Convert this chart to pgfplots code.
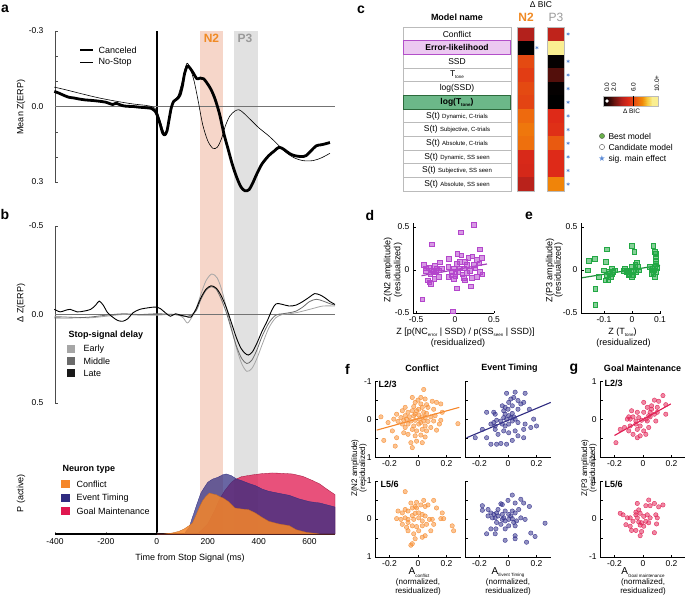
\documentclass[border=0pt]{standalone}
\usepackage{fontspec}
\setmainfont{Liberation Sans}
\newfontfamily\djv{DejaVu Sans}
\usepackage{pgfplots}
\pgfplotsset{compat=1.18}
\definecolor{nbandc}{HTML}{F6D6C9}
\definecolor{pbandc}{HTML}{E1E1E1}
\definecolor{ntwo}{HTML}{F08A24}
\definecolor{pthree}{HTML}{9A9A9A}
\definecolor{cconf}{HTML}{F5862A}
\definecolor{cet}{HTML}{2F2B80}
\definecolor{cgm}{HTML}{E0174F}
\definecolor{dpur}{HTML}{B446CC}
\definecolor{egrn}{HTML}{22A844}
\definecolor{starblue}{HTML}{5A8AD6}
\definecolor{elfill}{HTML}{ECC9F1}
\definecolor{elbord}{HTML}{B24FC9}
\definecolor{gfill}{HTML}{6CB889}
\definecolor{gbord}{HTML}{2C6A3C}
\definecolor{rowb}{HTML}{BBBBBB}
\definecolor{fo}{HTML}{F7923A}
\definecolor{fn}{HTML}{3B3990}
\definecolor{fg}{HTML}{E2285A}
\definecolor{bestg}{HTML}{6AB04C}
\pgfplotsset{colormap={bic}{rgb255(0cm)=(0,0,0); rgb255(2cm)=(50,8,6); rgb255(4cm)=(105,20,14); rgb255(7cm)=(176,32,28); rgb255(10cm)=(222,42,24); rgb255(12cm)=(228,74,18); rgb255(14cm)=(238,106,14); rgb255(16cm)=(240,138,8); rgb255(18cm)=(246,200,60); rgb255(20cm)=(250,238,145)}}
\newcommand{\tk}{\fontsize{8.5}{9}\selectfont}
\newcommand{\sm}{\fontsize{6}{7}\selectfont}
\newcommand{\sub}[1]{\raisebox{-0.45ex}{\fontsize{4.5}{5}\selectfont #1}}
\pgfplotsset{
 myax/.style={scale only axis, anchor=center, axis x line*=bottom, axis y line*=left,
  tick align=inside, major tick length=2.5pt, tick style={black, line width=0.4pt},
  axis line style={line width=0.5pt}, ticklabel style={font=\tk}, clip=false},
 dmark/.style={only marks, mark=square*, mark size=2.3pt, mark options={draw=none, fill opacity=0.55}},
 fmark/.style={only marks, mark=*, mark size=2.2pt, mark options={draw=none, fill opacity=0.55}},
}
\begin{document}
\begin{tikzpicture}[x=1pt,y=1pt,font=\fontsize{9}{10}\selectfont]
\path[use as bounding box] (0,0) rectangle (685,-596);
% ---------- background bands and stop line
\begin{axis}[scale only axis, anchor=center, at={(195pt,-282.5pt)}, width=280pt, height=503pt,
  xmin=-400, xmax=700, ymin=0, ymax=1, hide axis]
\addplot[fill=nbandc, draw=none] coordinates {(170,1)(260,1)} \closedcycle;
\addplot[fill=pbandc, draw=none] coordinates {(302,1)(398,1)} \closedcycle;
\addplot[black, line width=1.5pt] coordinates {(0,0)(0,1)};
\end{axis}
% ---------- panel a
\begin{axis}[scale only axis, anchor=center, at={(195pt,-106.5pt)}, width=280pt, height=151pt,
  xmin=-400, xmax=700, ymin=-0.3, ymax=0.3, y dir=reverse, hide x axis, axis y line*=left,
  ytick={-0.3,0,0.3}, yticklabels={-0.3,0.0,0.3}, minor ytick={-0.2,-0.1,0.1,0.2},
  tick align=inside, major tick length=3pt, minor tick length=3pt, tick style={black!70},
  yticklabel style={font=\tk, xshift=-8pt}, clip=false, axis line style={line width=0.5pt, black!70}]
\addplot[black!55, line width=0.5pt] coordinates {(-400,0)(700,0)};
\addplot[black, line width=0.6pt, smooth] coordinates {(-402.7,-0.077)(-360,-0.067)(-293.3,-0.050)(-226.7,-0.034)(-160,-0.021)(-93.3,-0.010)(-40,-0.004)(-13.3,0.003)(0,0.018)(13.3,0.058)(26.7,0.100)(36,0.107)(46.7,0.058)(56,0.005)(66.7,-0.021)(82.7,-0.041)(100,-0.100)(117.3,-0.170)(130.7,-0.152)(146.7,-0.100)(162.7,-0.021)(180,0.071)(200,0.136)(220,0.166)(237.3,0.162)(253.3,0.130)(269.3,0.077)(286.7,0.038)(306.7,0.018)(322.7,0.013)(340,0.025)(366.7,0.051)(400,0.084)(440,0.117)(473.3,0.149)(506.7,0.182)(540,0.204)(573.3,0.215)(613.3,0.215)(646.7,0.204)(680,0.186)};
\addplot[black, line width=2.8pt, smooth, line join=round] coordinates {(-402.7,-0.060)(-386.7,-0.054)(-366.7,-0.045)(-346.7,-0.037)(-326.7,-0.034)(-306.7,-0.030)(-280,-0.026)(-253.3,-0.024)(-226.7,-0.021)(-200,-0.017)(-173.3,-0.008)(-160,-0.013)(-140,-0.005)(-120,-0.001)(-93.3,0.000)(-66.7,0.003)(-40,0.005)(-20,0.008)(-6.7,0.018)(2.7,0.038)(13.3,0.071)(22.7,0.104)(30.7,0.113)(40,0.097)(49.3,0.045)(57.3,0.003)(66.7,-0.021)(80,-0.031)(90.7,-0.045)(100,-0.080)(109.3,-0.132)(120,-0.161)(130.7,-0.152)(144,-0.132)(157.3,-0.110)(170.7,-0.113)(184,-0.110)(197.3,-0.093)(213.3,-0.067)(229.3,-0.028)(246.7,0.031)(264,0.110)(280,0.169)(296,0.228)(313.3,0.280)(330.7,0.320)(346.7,0.335)(362.7,0.330)(376,0.306)(393.3,0.267)(413.3,0.228)(440,0.195)(460,0.178)(480,0.162)(500,0.171)(520,0.186)(540,0.195)(566.7,0.199)(586.7,0.195)(606.7,0.175)(626.7,0.156)(646.7,0.152)(666.7,0.147)(680,0.143)};
\end{axis}
% ---------- panel b
\begin{axis}[scale only axis, anchor=center, at={(195pt,-314.5pt)}, width=280pt, height=177pt,
  xmin=-400, xmax=700, ymin=-0.5, ymax=0.5, y dir=reverse, hide x axis, axis y line*=left,
  ytick={-0.5,0,0.5}, yticklabels={-0.5,0.0,0.5},
  tick align=inside, major tick length=3pt, tick style={black!70},
  yticklabel style={font=\tk, xshift=-8pt}, clip=false, axis line style={line width=0.5pt, black!70}]
\addplot[black!55, line width=0.5pt] coordinates {(-400,0)(700,0)};
\addplot[black!35, line width=0.8pt, smooth] coordinates {(-402.7,0.010)(-333.3,0.015)(-266.7,0.019)(-200,0.010)(-133.3,0)(-66.7,0.004)(0,0.004)(40,0)(80,0)(104,0.019)(120,0.048)(136,0.019)(153.3,-0.029)(173.3,-0.115)(193.3,-0.191)(216,-0.229)(237.3,-0.206)(256,-0.134)(274.7,-0.029)(293.3,0.076)(313.3,0.191)(333.3,0.277)(353.3,0.321)(373.3,0.305)(393.3,0.248)(413.3,0.172)(440,0.076)(466.7,0.019)(493.3,0)(520,-0.004)(546.7,-0.010)(573.3,-0.019)(613.3,-0.034)(653.3,-0.048)(700,-0.048)};
\addplot[black!58, line width=0.8pt, smooth] coordinates {(-402.7,0.019)(-333.3,0.019)(-266.7,0.015)(-200,0.004)(-133.3,-0.004)(-66.7,0)(0,-0.004)(66.7,0)(120,0.010)(153.3,-0.019)(173.3,-0.086)(193.3,-0.137)(213.3,-0.157)(233.3,-0.143)(253.3,-0.086)(273.3,-0.010)(293.3,0.086)(313.3,0.181)(333.3,0.248)(353.3,0.277)(373.3,0.258)(393.3,0.200)(413.3,0.124)(440,0.048)(466.7,0.004)(493.3,-0.004)(520,-0.010)(546.7,-0.019)(573.3,-0.042)(600,-0.073)(626.7,-0.086)(653.3,-0.076)(680,-0.061)(700,-0.053)};
\addplot[black, line width=0.9pt, smooth] coordinates {(-402.7,-0.029)(-380,-0.015)(-360,-0.023)(-340,-0.029)(-313.3,-0.015)(-286.7,-0.019)(-260,-0.029)(-240,-0.053)(-226.7,-0.076)(-210.7,-0.053)(-193.3,-0.010)(-173.3,0.015)(-153.3,0.034)(-133.3,0.038)(-113.3,0.023)(-93.3,-0.010)(-66.7,-0.029)(-33.3,-0.038)(-6.7,-0.042)(13.3,-0.034)(33.3,-0.010)(53.3,0.010)(73.3,-0.004)(93.3,0.004)(113.3,0.010)(133.3,0.015)(153.3,-0.029)(173.3,-0.095)(193.3,-0.143)(213.3,-0.162)(233.3,-0.149)(253.3,-0.105)(273.3,-0.038)(293.3,0.048)(313.3,0.134)(330.7,0.191)(346.7,0.219)(360,0.229)(376,0.210)(393.3,0.162)(413.3,0.095)(433.3,0.038)(453.3,-0.029)(469.3,-0.061)(493.3,-0.057)(520,-0.048)(546.7,-0.053)(573.3,-0.073)(600,-0.099)(620,-0.118)(640,-0.111)(660,-0.095)(680,-0.073)(700,-0.057)};
\end{axis}
% ---------- P(active)
\begin{axis}[scale only axis, anchor=center, at={(195pt,-500.65pt)}, width=280pt, height=66.7pt,
  xmin=-400, xmax=700, ymin=0, ymax=200, axis x line*=bottom, hide y axis,
  xtick={-400,-200,0,200,400,600}, xticklabels={-400,-200,0,200,400,600},
  tick align=inside, major tick length=2pt, axis line style={line width=1.1pt},
  xticklabel style={font=\tk, yshift=-1pt}, clip=false]
\addplot[fill=cgm, fill opacity=0.75, draw=cgm!70!black, line width=0.3pt] coordinates {(0,0)(160,0)(200,30)(227,70)(247,105)(267,130)(293,155)(307,163)(333,172)(373,177)(413,181)(453,183)(493,182)(533,180)(573,173)(613,160)(640,150)(667,135)(700,118)} \closedcycle;
\addplot[fill=cet, fill opacity=0.72, draw=cet, line width=0.3pt] coordinates {(0,0)(107,0)(127,20)(140,50)(160,95)(173,123)(187,140)(200,155)(220,165)(240,170)(260,178)(273,180)(293,175)(313,165)(333,160)(360,152)(387,145)(413,135)(440,128)(480,122)(520,116)(560,105)(600,97)(640,93)(680,85)(700,81)} \closedcycle;
\addplot[fill=cconf, fill opacity=0.85, draw=cconf!80!black, line width=0.3pt] coordinates {(0,0)(27,0)(60,3)(87,8)(107,15)(127,25)(140,33)(153,55)(167,80)(180,100)(193,113)(207,123)(220,120)(233,118)(247,112)(260,108)(280,98)(307,78)(333,75)(360,73)(387,63)(413,50)(440,38)(480,30)(520,25)(547,13)(587,5)(640,0)(700,0)} \closedcycle;
\end{axis}
% ---------- left texts
\node[font=\fontsize{14}{14}\selectfont\bfseries] at (5,-9) {a};
\node[font=\fontsize{14}{14}\selectfont\bfseries] at (5,-214) {b};
\node[rotate=90] at (21,-107) {Mean Z(ERP)};
\node[rotate=90] at (21,-303) {Δ Z(ERP)};
\node[rotate=90] at (21,-493) {P (active)};
\node at (190,-558) {Time from Stop Signal (ms)};
\node[font=\fontsize{12}{12}\selectfont\bfseries, text=ntwo] at (211.5,-38) {N2};
\node[font=\fontsize{12}{12}\selectfont\bfseries, text=pthree] at (245,-38) {P3};
\draw[line width=2.8pt] (80,-50) -- (93,-50);
\node[anchor=west] at (95,-50) {Canceled};
\draw[line width=0.6pt] (80,-62) -- (93,-62);
\node[anchor=west] at (95,-62) {No-Stop};
\node[anchor=west, font=\fontsize{9}{10}\selectfont\bfseries] at (65,-335) {Stop-signal delay};
\fill[black!35] (67,-345) rectangle (75,-353); \node[anchor=west] at (80,-349) {Early};
\fill[black!58] (67,-357) rectangle (75,-365); \node[anchor=west] at (80,-361) {Middle};
\fill[black!90] (67,-369) rectangle (75,-377); \node[anchor=west] at (80,-373) {Late};
\node[anchor=west, font=\fontsize{9}{10}\selectfont\bfseries] at (59,-469) {Neuron type};
\fill[cconf] (61,-480) rectangle (70,-488); \node[anchor=west] at (73,-484) {Conflict};
\fill[cet] (61,-494) rectangle (70,-502); \node[anchor=west] at (73,-498) {Event Timing};
\fill[cgm] (61,-507) rectangle (70,-515); \node[anchor=west] at (73,-511) {Goal Maintenance};
% ---------- panel c table
\node[font=\fontsize{14}{14}\selectfont\bfseries] at (361,-10) {c};
\node[font=\fontsize{9}{10}\selectfont\bfseries] at (457,-17) {Model name};
\node[font=\tk] at (541,-5) {Δ BIC};
\node[font=\fontsize{12}{12}\selectfont\bfseries, text=ntwo] at (526,-17.5) {N2};
\node[font=\fontsize{12}{12}\selectfont, text=pthree] at (556,-17.5) {P3};
\foreach \i in {1,...,12} {
  \draw[rowb, line width=0.9pt] (403,{-27.2-13.65*(\i-1)}) rectangle (511,{-27.2-13.65*\i});
}
\draw[elbord, fill=elfill, line width=1.1pt] (403.5,-40.85) rectangle (510.5,-54.5);
\draw[gbord, fill=gfill, line width=1.1pt] (403.5,-95.45) rectangle (510.5,-109.1);
\node[font=\tk] at (457,-34.0) {Conflict};
\node[font=\tk\bfseries] at (457,-47.7) {Error-likelihood};
\node[font=\tk] at (457,-61.3) {SSD};
\node[font=\tk] at (457,-75.0) {T\sub{tone}};
\node[font=\tk] at (457,-88.6) {log(SSD)};
\node[font=\tk\bfseries] at (457,-102.3) {log(T\sub{tone})};
\node[font=\tk] at (457,-115.9) {S(t) {\sm Dynamic, C-trials}};
\node[font=\tk] at (457,-129.6) {S(t) {\sm Subjective, C-trials}};
\node[font=\tk] at (457,-143.2) {S(t) {\sm Absolute, C-trials}};
\node[font=\tk] at (457,-156.9) {S(t) {\sm Dynamic, SS seen}};
\node[font=\tk] at (457,-170.5) {S(t) {\sm Subjective, SS seen}};
\node[font=\tk] at (457,-184.2) {S(t) {\sm Absolute, SS seen}};
\begin{axis}[scale only axis, anchor=center, at={(540.5pt,-109.1pt)}, width=60pt, height=163.8pt,
  xmin=-0.5, xmax=1.5, ymin=0.5, ymax=12.5, y dir=reverse, hide axis, clip=false,
  colormap name=bic, point meta min=0, point meta max=10]
\addplot[scatter, only marks, mark=square*, mark size=6.6pt, point meta=explicit,
  scatter/use mapped color={draw=mapped color, fill=mapped color}, mark options={xscale=1.29}]
  table[x=x, y=y, meta=c] {
x y c
0 1 3.6
0 2 0
0 3 6.0
0 4 5.6
0 5 6.0
0 6 5.8
0 7 7.0
0 8 7.4
0 9 7.2
0 10 4.8
0 11 4.7
0 12 3.8
1 1 4.0
1 2 10
1 3 0.1
1 4 1.6
1 5 0.1
1 6 0
1 7 5.0
1 8 5.2
1 9 6.5
1 10 5.0
1 11 5.0
1 12 7.8
};
\addplot[only marks, mark=asterisk, mark size=1.7pt, color=starblue, line width=0.5pt] coordinates {(0.38,2)(1.42,1)(1.42,3)(1.42,4)(1.42,5)(1.42,6)(1.42,7)(1.42,8)(1.42,9)(1.42,10)(1.42,11)(1.42,12)};
\end{axis}
\draw[rowb, line width=0.7pt] (517,-27.2) rectangle (534,-191);
\draw[rowb, line width=0.7pt] (547,-27.2) rectangle (564,-191);
% colorbar
\begin{axis}[scale only axis, anchor=center, at={(630.5pt,-101pt)}, width=55pt, height=10pt,
  xmin=-0.3, xmax=11.3, ymin=0, ymax=1, zmin=-1, zmax=1, hide axis, view={0}{90},
  colormap name=bic, point meta min=0, point meta max=10, clip=false]
\addplot3[surf, shader=interp, mesh/rows=2, point meta=explicit] coordinates {
(-0.3,0,0) [0] (0,0,0) [0] (1,0,0) [1] (2,0,0) [2] (3,0,0) [3] (4,0,0) [4] (5,0,0) [5] (6,0,0) [6] (7,0,0) [7] (8,0,0) [8] (9,0,0) [9] (10,0,0) [10] (11.3,0,0) [10]
(-0.3,1,0) [0] (0,1,0) [0] (1,1,0) [1] (2,1,0) [2] (3,1,0) [3] (4,1,0) [4] (5,1,0) [5] (6,1,0) [6] (7,1,0) [7] (8,1,0) [8] (9,1,0) [9] (10,1,0) [10] (11.3,1,0) [10]
};
\end{axis}
\draw[rowb, line width=0.5pt] (603,-96) rectangle (658,-106);
\draw[black, line width=0.7pt] (633.5,-96) -- (633.5,-106);
\fill[white] (607,-101) circle (1.8);
\node[rotate=90, anchor=west, font=\fontsize{6.5}{7}\selectfont, inner sep=1pt] at (607,-93) {0.0};
\node[rotate=90, anchor=west, font=\fontsize{6.5}{7}\selectfont, inner sep=1pt] at (614,-93) {2.0};
\node[rotate=90, anchor=west, font=\fontsize{6.5}{7}\selectfont, inner sep=1pt] at (633.5,-93) {6.0};
\node[rotate=90, anchor=west, font=\fontsize{6.5}{7}\selectfont, inner sep=1pt] at (657,-93) {10.0+};
\node[font=\fontsize{6.5}{7}\selectfont] at (631.5,-111) {Δ BIC};
\fill[bestg, draw=gray!60!black, line width=0.3pt] (602,-136) circle (2.6);
\node[anchor=west, font=\tk] at (605,-136) {Best model};
\draw[gray!60!black, fill=white, line width=0.4pt] (602,-147) circle (2.6);
\node[anchor=west, font=\tk] at (605,-147) {Candidate model};
\node[text=starblue, font=\djv\fontsize{8}{8}\selectfont, inner sep=0pt] at (602,-159) {★};
\node[anchor=west, font=\tk] at (605,-159) {sig. main effect};
% ---------- panel d
\node[font=\fontsize{14}{14}\selectfont\bfseries] at (370,-215) {d};
\begin{axis}[myax, at={(453.5pt,-267.85pt)}, width=81pt, height=90.3pt, xmin=-0.54, xmax=0.5, ymin=-0.5, ymax=0.55,
  xtick={-0.5,0,0.5}, xticklabels={-0.5,0,0.5}, ytick={-0.5,0,0.5}, yticklabels={-0.5,0,0.5}]
\addplot[dmark, color=dpur] coordinates {(0.24,0.53)(0.07,0.44)(-0.30,0.30)(-0.42,-0.34)(-0.03,-0.48)(0.02,-0.21)(0.20,-0.19)(0.32,0.24)(0.03,0.19)(0.08,0.17)(-0.08,0.13)(0.17,0.14)(0.22,0.16)(-0.20,0.09)(-0.40,0.06)(-0.34,0.03)(-0.26,0.05)(-0.24,0.02)(-0.30,0)(-0.28,-0.02)(-0.25,-0.01)(-0.21,0)(-0.32,-0.04)(-0.35,-0.12)(-0.33,-0.14)(-0.31,-0.16)(-0.38,-0.01)(-0.09,-0.08)(-0.04,-0.02)(0,-0.04)(0.04,-0.02)(-0.02,0.02)(0.02,0.07)(0.06,0.10)(0.12,0.10)(0.15,0.06)(0.11,0.02)(0.09,-0.05)(0.12,-0.12)(0.11,-0.09)(0.19,-0.01)(0.24,0.06)(0.26,0.02)(0.28,-0.08)(0.21,-0.09)(0.32,-0.02)(0.35,-0.05)(0.31,0.08)(0.34,0.14)(0,-0.07)(-0.02,-0.10)(-0.05,-0.06)(-0.21,-0.08)(-0.09,0.04)(0.28,0.12)(0.06,0.02)(0.15,-0.03)(-0.27,-0.10)(-0.38,0.02)(-0.17,0.02)};
\addplot[dpur!90!black, line width=1.2pt] coordinates {(-0.43,-0.066)(0.41,0.07)};
\end{axis}
\node[rotate=90] at (388,-270) {Z(N2 amplitude)};
\node[rotate=90] at (398,-270) {(residualized)};
\node at (465.5,-332) {Z [p(NC\sub{error} | SSD) / p(SS\sub{seen} | SSD)]};
\node at (458,-343) {(residualized)};
% ---------- panel e
\node[font=\fontsize{14}{14}\selectfont\bfseries] at (529,-216) {e};
\begin{axis}[myax, at={(620.9pt,-267.85pt)}, width=79.8pt, height=90.3pt, xmin=-0.182, xmax=0.103, ymin=-0.5, ymax=0.55,
  xtick={-0.1,0,0.1}, xticklabels={-0.1,0,0.1}, ytick={-0.5,0,0.5}, yticklabels={-0.5,0,0.5}]
\addplot[dmark, color=egrn] coordinates {(-0.154,0.11)(-0.133,0.13)(-0.158,0.00)(-0.09,0.24)(-0.094,0.10)(-0.132,-0.22)(-0.132,-0.40)(-0.118,-0.08)(-0.10,0)(-0.096,-0.12)(-0.09,-0.06)(-0.085,-0.02)(-0.079,-0.04)(-0.073,0.02)(-0.067,-0.02)(-0.085,-0.11)(-0.075,-0.08)(-0.070,-0.05)(-0.061,0)(-0.031,-0.01)(-0.025,0.02)(-0.019,-0.02)(-0.013,0)(-0.010,-0.04)(0,0.28)(0.008,0.21)(0,0.04)(0.005,0)(0.011,0.06)(0.017,0.09)(0.02,0.04)(0.013,-0.02)(0,-0.08)(0.005,-0.06)(0.023,0)(-0.013,-0.06)(0.064,0.04)(0.07,0)(0.076,0.28)(0.082,0.21)(0.085,0.15)(0.085,0.11)(0.085,0.07)(0.082,0.04)(0.08,0)(0.076,-0.04)(0.082,-0.08)(0.068,-0.04)(0.088,0.02)(0.087,-0.02)(0.073,0.02)(0.085,0.19)};
\addplot[egrn!85!black, line width=1.2pt] coordinates {(-0.178,-0.09)(0.1,0.055)};
\end{axis}
\node[rotate=90] at (550,-270) {Z(P3 amplitude)};
\node[rotate=90] at (558.5,-270) {(residualized)};
\node at (622.5,-332) {Z (T\sub{tone})};
\node at (623.5,-343) {(residualized)};
% ---------- panel f
\node[font=\fontsize{14}{14}\selectfont\bfseries] at (347.5,-369) {f};
\node[font=\fontsize{9}{10}\selectfont\bfseries] at (422,-368) {Conflict};
\node[font=\fontsize{9}{10}\selectfont\bfseries] at (509.5,-368) {Event Timing};
\node[font=\fontsize{14}{14}\selectfont\bfseries] at (574,-369) {g};
\node[font=\fontsize{9}{10}\selectfont\bfseries] at (642.5,-368) {Goal Maintenance};
\pgfplotsset{fax/.style={myax, width=85.5pt, height=76pt, xmin=-0.3, xmax=0.3, ymin=-1, ymax=1,
  xtick={-0.2,0,0.2}, xticklabels={-0.2,0,0.2}, ytick={-1,-0.5,0,0.5,1}}}
\begin{axis}[fax, at={(418pt,-419.5pt)}, y dir=reverse, yticklabels={-1,{},0,{},1}]
\addplot[fmark, color=fo] coordinates {(0.04,-0.79)(-0.26,-0.07)(-0.24,0.55)(-0.16,0.70)(-0.04,0.74)(-0.15,0.48)(0.28,0.11)(0.16,-0.41)(0.16,0.02)(-0.02,-0.45)(0,-0.51)(0.05,-0.54)(0.02,-0.41)(-0.03,-0.34)(0.03,-0.32)(0.07,-0.32)(0.11,-0.27)(-0.11,-0.23)(-0.07,-0.19)(-0.04,-0.23)(-0.01,-0.23)(0.04,-0.19)(0.06,-0.16)(-0.09,-0.10)(-0.06,-0.07)(-0.03,-0.10)(0.005,-0.12)(0.03,-0.07)(0.05,-0.05)(0.09,-0.07)(0.12,-0.10)(-0.12,-0.05)(-0.10,0.02)(-0.08,-0.01)(-0.05,0.04)(-0.02,0.02)(0.01,-0.01)(0.04,0.04)(0.07,0.05)(0.11,0.04)(-0.14,0.05)(-0.11,0.12)(-0.07,0.12)(-0.03,0.17)(0.005,0.12)(0.05,0.17)(0.09,0.21)(-0.09,0.21)(-0.04,0.26)(-0.01,0.30)(0.03,0.26)(0.06,0.30)(-0.07,0.39)(-0.02,0.43)(0.02,0.41)(0.05,0.46)(-0.01,0.57)(0.03,0.61)(-0.05,0.61)(-0.18,0.30)(-0.21,0.08)(-0.17,-0.01)(0.15,0.12)(0.17,-0.19)(0.13,-0.45)(0.10,-0.48)(0.02,-0.58)(-0.04,-0.58)(-0.09,-0.32)(-0.15,-0.14)(0.06,-0.39)(0.005,-0.27)(-0.02,-0.14)(0.02,0.08)(0.13,0.28)(-0.10,0.35)};
\addplot[cconf, line width=1.1pt] coordinates {(-0.29,0.28)(0.29,-0.32)};
\end{axis}
\node[anchor=west, font=\fontsize{9}{10}\selectfont\bfseries] at (375,-384) {L2/3};
\begin{axis}[fax, at={(508pt,-419.5pt)}, y dir=reverse, yticklabels={}]
\addplot[fmark, color=fn] coordinates {(-0.01,-0.69)(0.05,-0.72)(0.12,-0.69)(0.02,-0.54)(0.005,-0.45)(0.07,-0.50)(0.11,-0.45)(0.03,-0.36)(-0.02,-0.32)(-0.03,-0.23)(0,-0.27)(-0.15,-0.19)(-0.10,-0.19)(0.07,-0.27)(0.15,-0.27)(0.03,-0.16)(0.005,-0.10)(0.02,-0.05)(0.04,-0.07)(0.05,-0.01)(-0.01,-0.01)(-0.03,-0.05)(-0.05,0.04)(-0.08,0.02)(-0.10,0.08)(-0.12,0.12)(-0.09,0.17)(-0.04,0.12)(-0.02,0.17)(0.005,0.12)(0.07,0.08)(0.12,0.12)(0.16,0.21)(0.20,0.17)(0.18,-0.01)(0.11,0.26)(0.05,0.30)(0.005,0.35)(-0.03,0.30)(-0.07,0.39)(-0.09,0.26)(-0.18,0.26)(-0.23,0.48)(-0.15,0.48)(-0.12,0.65)(-0.08,0.65)(-0.05,0.63)(-0.01,0.65)(0.03,0.55)(0.07,0.43)(0.11,0.48)(-0.09,-0.14)(0.03,0.04)(-0.02,-0.14)(-0.04,-0.36)(0.04,-0.58)(0.09,-0.41)};
\addplot[cet, line width=1.1pt] coordinates {(-0.29,0.48)(0.30,-0.45)};
\end{axis}
\begin{axis}[fax, at={(418pt,-519pt)}, y dir=reverse, yticklabels={-1,{},0,{},1}]
\addplot[fmark, color=fo] coordinates {(-0.09,-0.72)(-0.14,-0.21)(-0.11,-0.16)(-0.09,-0.25)(-0.07,-0.21)(-0.04,-0.29)(-0.02,-0.33)(-0.01,-0.44)(0.04,-0.49)(0.02,-0.37)(0.05,-0.33)(0.11,-0.49)(0.07,-0.37)(0.13,-0.29)(0.17,-0.16)(0.16,-0.01)(0.18,-0.01)(0.24,0.18)(0.25,0.31)(-0.15,-0.01)(-0.12,0.01)(-0.09,-0.03)(-0.07,0.01)(-0.04,-0.09)(-0.02,-0.15)(0.005,-0.16)(0.03,-0.12)(0.05,-0.08)(0.08,0.01)(0.10,0.01)(0.06,0.14)(0.03,0.18)(-0.01,0.20)(-0.04,0.18)(-0.07,0.09)(-0.08,0.22)(-0.07,0.31)(-0.03,0.39)(0.005,0.31)(0.03,0.48)(0.05,0.44)(-0.02,0.52)(-0.05,0.69)(-0.04,0.65)(0.09,0.31)(-0.03,0.01)(0.005,-0.03)(0.03,0.05)(-0.05,-0.42)(-0.01,-0.29)(-0.11,0.14)(0.11,0.14)};
\end{axis}
\node[anchor=west, font=\fontsize{9}{10}\selectfont\bfseries] at (377,-484) {L5/6};
\begin{axis}[fax, at={(508pt,-519pt)}, y dir=reverse, yticklabels={}]
\addplot[fmark, color=fn] coordinates {(0.03,-0.63)(-0.18,-0.35)(-0.18,-0.23)(-0.14,-0.25)(-0.05,-0.40)(-0.04,-0.38)(0,-0.49)(0.05,-0.42)(0.09,-0.52)(0.11,-0.42)(0.15,-0.33)(-0.12,-0.16)(-0.10,-0.12)(-0.08,-0.16)(-0.07,-0.08)(-0.09,-0.03)(-0.11,-0.03)(-0.04,-0.12)(-0.02,-0.21)(0.005,-0.12)(0.03,-0.21)(0.05,-0.16)(0.075,-0.25)(-0.04,0.01)(-0.02,0.05)(0.005,0.01)(0.03,-0.01)(0.04,0.09)(0.06,0.05)(0.09,-0.03)(0.12,0.01)(-0.08,0.09)(-0.05,0.14)(-0.12,0.26)(-0.15,0.39)(-0.09,0.39)(-0.02,0.26)(0.005,0.18)(0.05,0.18)(0.05,0.44)(0.05,0.52)(-0.02,0.56)(0.13,0.61)(0.16,0.37)(0.19,0.46)(0.26,0.11)(-0.085,0.26)(-0.03,-0.03)(0.02,-0.08)(-0.07,-0.25)(-0.14,-0.08)};
\end{axis}
\node[rotate=90, font=\fontsize{8}{9}\selectfont] at (355,-468) {Z(N2 amplitude)};
\node[rotate=90, font=\fontsize{8}{9}\selectfont] at (363,-468) {(residualized)};
% ---------- panel g
\begin{axis}[fax, at={(643pt,-419.5pt)}, yticklabels={-1,{},0,{},1}]
\addplot[fmark, color=fg] coordinates {(0.005,0.45)(0.08,0.51)(0.14,0.63)(0.11,0.48)(0.16,0.39)(0.06,0.36)(0.03,0.32)(0.05,0.19)(0.08,0.14)(0.10,0.19)(0.04,0.10)(0.005,0.19)(-0.04,0.19)(-0.10,0.07)(-0.11,0.01)(-0.09,0.01)(-0.07,0.07)(-0.03,0.05)(-0.01,-0.02)(0.02,0.01)(0.05,0.07)(0.16,0.14)(-0.05,-0.12)(-0.02,-0.17)(-0.09,-0.17)(-0.13,-0.21)(-0.04,-0.26)(-0.07,-0.39)(-0.02,-0.43)(0.02,-0.39)(0.04,-0.21)(-0.16,-0.26)(-0.10,-0.30)(-0.19,-0.61)(-0.04,-0.48)(0.005,-0.30)(0.09,-0.04)(-0.08,0.23)(0.03,-0.04)(0.06,0.27)(0.10,0.32)(-0.05,-0.04)};
\addplot[cgm, line width=1.1pt] coordinates {(-0.20,-0.42)(0.195,0.41)};
\end{axis}
\node[anchor=west, font=\fontsize{9}{10}\selectfont\bfseries] at (601,-383) {L2/3};
\begin{axis}[fax, at={(643pt,-519pt)}, yticklabels={-1,{},0,{},1}]
\addplot[fmark, color=fg] coordinates {(0.04,0.50)(-0.04,0.41)(0.02,0.35)(0.05,0.35)(0.08,0.41)(0.14,0.37)(0.11,0.32)(-0.16,0.15)(-0.11,0.03)(-0.09,0.03)(-0.05,0.11)(-0.03,0.24)(-0.02,0.15)(-0.04,0.03)(0.005,0.07)(0.03,0.11)(0.09,0.11)(0.10,0.03)(-0.07,-0.06)(-0.03,-0.08)(-0.01,-0.10)(0.02,-0.06)(0.04,-0.10)(0.095,-0.13)(-0.09,-0.19)(-0.02,-0.16)(0.005,-0.19)(-0.12,-0.15)(-0.08,-0.30)(-0.05,-0.30)(-0.01,-0.33)(0.08,-0.36)(-0.02,-0.44)(-0.14,0.11)(0.05,0.03)(-0.05,0.18)};
\end{axis}
\node[anchor=west, font=\fontsize{9}{10}\selectfont\bfseries] at (601,-484) {L5/6};
\node[rotate=90, font=\fontsize{8}{9}\selectfont] at (585,-468) {Z(P3 amplitude)};
\node[rotate=90, font=\fontsize{8}{9}\selectfont] at (593,-468) {(residualized)};
% x labels of f/g
\node[font=\fontsize{10}{10}\selectfont] at (419,-572.5) {A\sub{conflict}};
\node[font=\fontsize{8}{9}\selectfont] at (418,-582) {(normalized,};
\node[font=\fontsize{8}{9}\selectfont] at (418,-591.5) {residualized)};
\node[font=\fontsize{10}{10}\selectfont] at (508,-572.5) {A\sub{Event Timing}};
\node[font=\fontsize{8}{9}\selectfont] at (508,-582) {(normalized,};
\node[font=\fontsize{8}{9}\selectfont] at (508,-591.5) {residualized)};
\node[font=\fontsize{10}{10}\selectfont] at (643,-572.5) {A\sub{Goal maintenance}};
\node[font=\fontsize{8}{9}\selectfont] at (643,-582) {(normalized,};
\node[font=\fontsize{8}{9}\selectfont] at (643,-591.5) {residualized)};
\end{tikzpicture}
\end{document}
